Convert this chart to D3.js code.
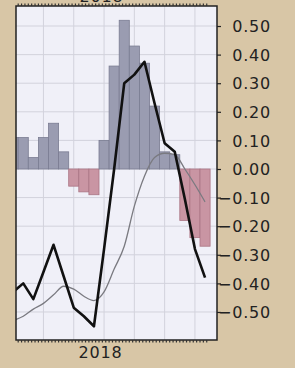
<!DOCTYPE html>
<html>
<head>
<meta charset="utf-8">
<script src="https://cdn.jsdelivr.net/npm/d3@7"></script>
<style>
  body { margin: 0; background: #d8c6a6; }
  svg { display: block; }
  .lbl { font-family: "DejaVu Sans", sans-serif; font-size: 16px; fill: #222; letter-spacing: 0.8px; }
</style>
</head>
<body>
<div id="vis"></div>
<script>
// months shown (first one is mostly hidden behind the left edge)
var months = ["2017-04","2017-05","2017-06","2017-07","2017-08","2017-09","2017-10","2017-11","2017-12",
              "2018-01","2018-02","2018-03","2018-04","2018-05","2018-06","2018-07","2018-08","2018-09","2018-10","2018-11"];
var barValues = [0.11, 0.11, 0.04, 0.11, 0.16, 0.06, -0.06, -0.08, -0.09, 0.10,
                 0.36, 0.52, 0.43, 0.37, 0.22, 0.06, 0.05, -0.18, -0.24, -0.27];
var lineValues = [-0.43, -0.40, -0.455, -0.36, -0.265, -0.375, -0.485, -0.515, -0.55, -0.28,
                  0.00, 0.30, 0.33, 0.375, 0.23, 0.09, 0.06, -0.105, -0.28, -0.38];
var smoothValues = [-0.53, -0.515, -0.49, -0.47, -0.44, -0.41, -0.42, -0.445, -0.46, -0.43,
                    -0.35, -0.27, -0.13, -0.025, 0.04, 0.055, 0.05, 0.00, -0.055, -0.115];
var yTicks = [0.5, 0.4, 0.3, 0.2, 0.1, 0, -0.1, -0.2, -0.3, -0.4, -0.5];
var gridMonths = ["2017-07","2017-10","2018-01","2018-04","2018-07","2018-10"];
var yearLabel = "2018";

var W = 295, H = 368;
var plot = {left: 16, right: 217, top: 6, bottom: 340};

var svg = d3.select("#vis").append("svg").attr("width", W).attr("height", H);

var x = d3.scaleLinear().domain([0, months.length]).range([8.1, 210.1]);
var y = d3.scaleLinear().domain([-0.598, 0.57]).range([plot.bottom, plot.top]);

svg.append("defs").append("clipPath").attr("id", "clip")
  .append("rect")
  .attr("x", plot.left).attr("y", plot.top)
  .attr("width", plot.right - plot.left).attr("height", plot.bottom - plot.top);

svg.append("rect")
  .attr("x", plot.left).attr("y", plot.top)
  .attr("width", plot.right - plot.left).attr("height", plot.bottom - plot.top)
  .attr("fill", "#f0f0f8");

var g = svg.append("g").attr("clip-path", "url(#clip)");

// grid
g.selectAll(".hgrid").data(yTicks).enter().append("line")
  .attr("x1", plot.left).attr("x2", plot.right)
  .attr("y1", function(d) { return y(d); }).attr("y2", function(d) { return y(d); })
  .attr("stroke", "#d2d2dc").attr("stroke-width", 1);

g.selectAll(".vgrid").data(gridMonths).enter().append("line")
  .attr("x1", function(d) { return x(months.indexOf(d) + 0.5); })
  .attr("x2", function(d) { return x(months.indexOf(d) + 0.5); })
  .attr("y1", plot.top).attr("y2", plot.bottom)
  .attr("stroke", "#d2d2dc").attr("stroke-width", 1);

// bars
g.selectAll(".bar").data(barValues).enter().append("rect")
  .attr("x", function(d, i) { return x(i); })
  .attr("width", function(d, i) { return x(i + 1) - x(i); })
  .attr("y", function(d) { return y(Math.max(0, d)); })
  .attr("height", function(d) { return Math.abs(y(d) - y(0)); })
  .attr("fill", function(d) { return d >= 0 ? "#9a9cb1" : "#c995a3"; })
  .attr("stroke", function(d) { return d >= 0 ? "#7a7c92" : "#aa7584"; })
  .attr("stroke-width", 0.8);

// smoothed line
var smooth = d3.line()
  .x(function(d, i) { return x(i + 0.5); })
  .y(function(d) { return y(d); })
  .curve(d3.curveMonotoneX);

g.append("path").datum(smoothValues)
  .attr("d", smooth)
  .attr("fill", "none")
  .attr("stroke", "#7a7a80")
  .attr("stroke-width", 1.3);

var line = d3.line()
  .x(function(d, i) { return x(i + 0.5); })
  .y(function(d) { return y(d); });

g.append("path").datum(lineValues)
  .attr("d", line)
  .attr("fill", "none")
  .attr("stroke", "#111")
  .attr("stroke-width", 2.6)
  .attr("stroke-linejoin", "round");

// frame
svg.append("rect")
  .attr("x", plot.left).attr("y", plot.top)
  .attr("width", plot.right - plot.left).attr("height", plot.bottom - plot.top)
  .attr("fill", "none").attr("stroke", "#222").attr("stroke-width", 1.5);

// small ticks along top and bottom edges
var minor = d3.range(0, months.length * 3).map(function(k) { return k / 3; })
  .filter(function(v) { return x(v) > plot.left + 1 && x(v) < plot.right - 1; });
svg.selectAll(".tb").data(minor).enter().append("line")
  .attr("x1", function(d) { return x(d); }).attr("x2", function(d) { return x(d); })
  .attr("y1", plot.bottom).attr("y2", plot.bottom + 2.5)
  .attr("stroke", "#333").attr("stroke-width", 1.2);
svg.selectAll(".tt").data(minor).enter().append("line")
  .attr("x1", function(d) { return x(d); }).attr("x2", function(d) { return x(d); })
  .attr("y1", plot.top).attr("y2", plot.top - 2.5)
  .attr("stroke", "#333").attr("stroke-width", 1.2);

// right axis
var axis = d3.axisRight(y).tickValues(yTicks).tickSize(4).tickPadding(6)
  .tickFormat(d3.format(".2f"));
var ax = svg.append("g").attr("transform", "translate(" + plot.right + ",0)").call(axis);
ax.select(".domain").remove();
ax.selectAll(".tick line").attr("stroke", "#222").attr("stroke-width", 1.2);
ax.selectAll(".tick text")
  .attr("class", "lbl")
  .attr("text-anchor", "end")
  .attr("x", 271 - plot.right)
  .attr("dy", "0.36em");

// year labels
svg.append("text").attr("class", "lbl")
  .attr("x", x(months.indexOf("2018-01")) + 1.5).attr("y", 358)
  .attr("text-anchor", "middle")
  .text(yearLabel);
svg.append("text").attr("class", "lbl")
  .attr("x", x(months.indexOf("2018-01")) + 2.5).attr("y", 1.5)
  .attr("text-anchor", "middle")
  .text(yearLabel);
</script>
</body>
</html>
